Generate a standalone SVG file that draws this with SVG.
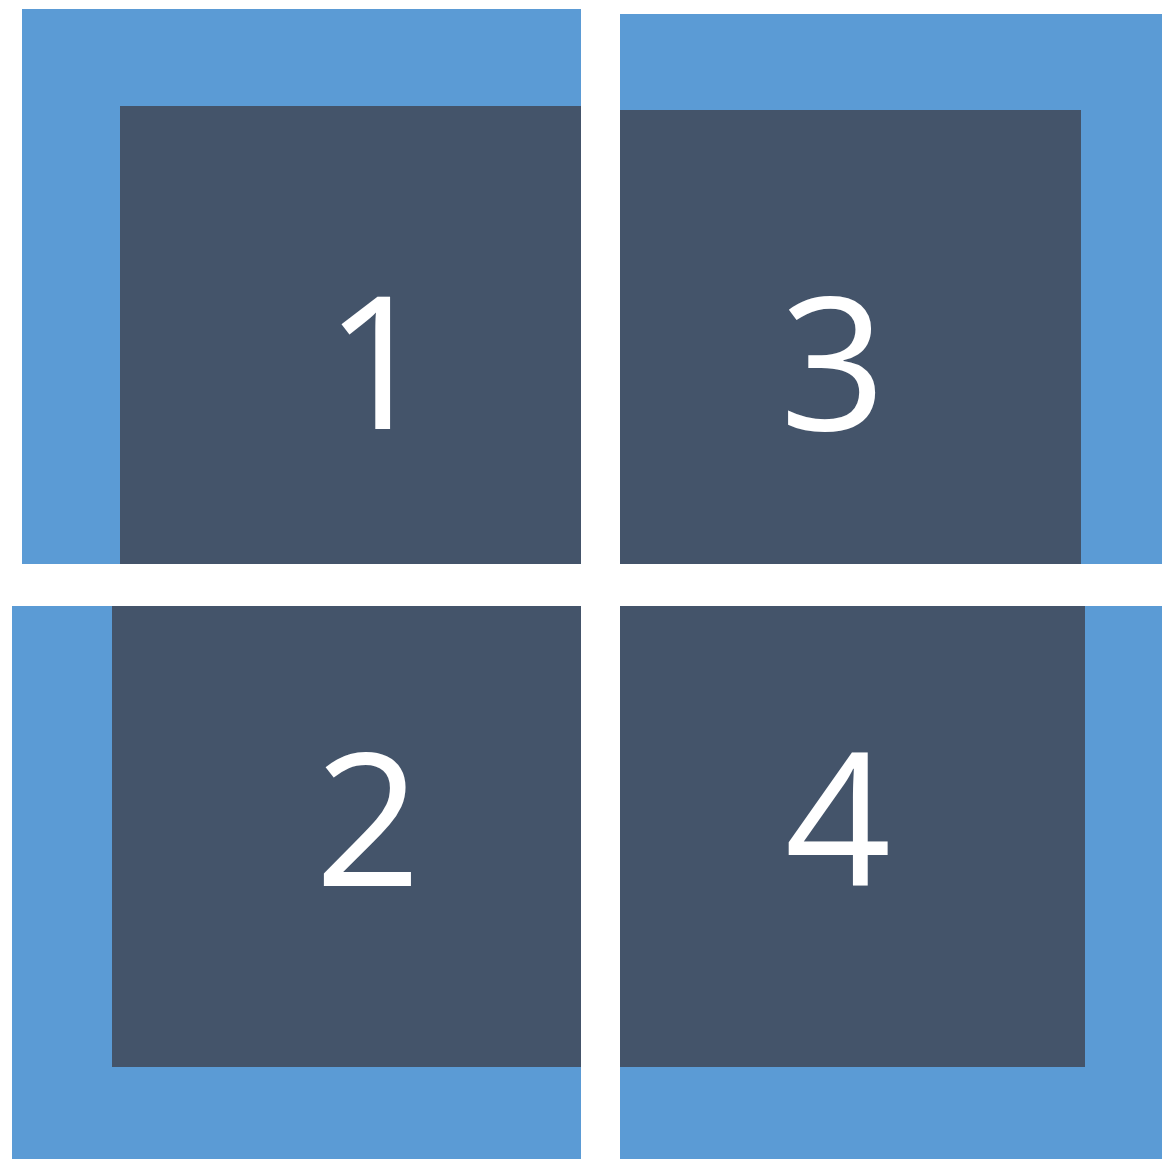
<svg xmlns="http://www.w3.org/2000/svg" width="1162" height="1159" viewBox="0 0 1162 1159">
<style>
.outer{fill:#5B9BD5}
.inner{fill:#44546A}
.lbl{fill:#FFFFFF;font-family:"Open Sans","Noto Sans",sans-serif;font-size:186px;text-anchor:middle}
</style>
<rect width="1162" height="1159" fill="#FFFFFF"/>
<g id="tile1">
<rect class="outer" x="22" y="9" width="559" height="555"/>
<rect class="inner" x="120" y="106" width="461" height="458"/>
<text class="lbl" x="378" y="429">1</text>
</g>
<g id="tile3">
<rect class="outer" x="620" y="14" width="542" height="550"/>
<rect class="inner" x="620" y="110" width="461" height="454"/>
<text class="lbl" x="833" y="430">3</text>
</g>
<g id="tile2">
<rect class="outer" x="12" y="606" width="569" height="553"/>
<rect class="inner" x="112" y="606" width="469" height="461"/>
<text class="lbl" x="368" y="886">2</text>
</g>
<g id="tile4">
<rect class="outer" x="620" y="606" width="542" height="553"/>
<rect class="inner" x="620" y="606" width="465" height="461"/>
<text class="lbl" x="838" y="886">4</text>
</g>
<g id="connectors"></g>
</svg>
